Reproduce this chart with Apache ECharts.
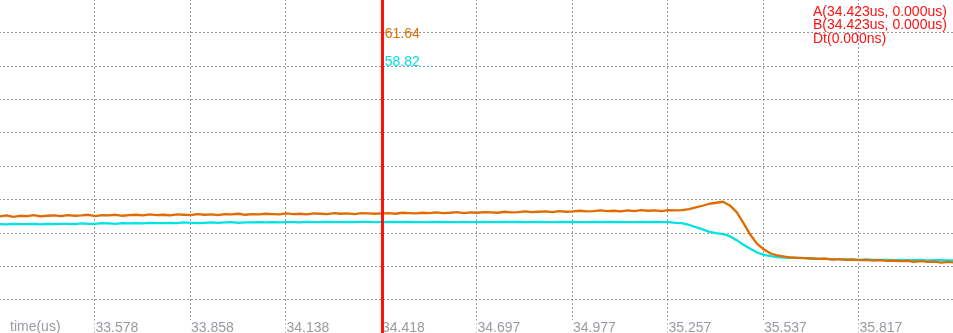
<!DOCTYPE html>
<html>
<head>
<meta charset="utf-8">
<style>
html,body{margin:0;padding:0;background:#fff;}
#c{width:953px;height:333px;}
</style>
<script src="https://cdn.jsdelivr.net/npm/echarts@6/dist/echarts.min.js"></script>
</head>
<body>
<div id="c"></div>
<script>
// Tick labels on the time axis (us)
const tickLabels = ['', '33.578', '33.858', '34.138', '34.418', '34.697', '34.977', '35.257', '35.537', '35.817', ''];
const axisMin = 33.298125;
const axisStep = 0.279875;
const axisMax = 36.096875;

// Sampling grid for the traces
const t0 = 33.30;
const dt = 0.02;

// Orange trace
const orangeValues = [
  34.9, 35.2, 34.8, 35.1, 35.0, 35.3, 34.9, 35.1, 35.2, 35.0,
  35.3, 35.1, 35.2, 35.4, 35.0, 35.3, 35.2, 35.4, 35.1, 35.3,
  35.4, 35.2, 35.5, 35.3, 35.4, 35.2, 35.5, 35.4, 35.3, 35.6,
  35.4, 35.5, 35.3, 35.6, 35.5, 35.7, 35.4, 35.6, 35.5, 35.7,
  35.6, 35.5, 35.8, 35.6, 35.7, 35.5, 35.8, 35.7, 35.6, 35.9,
  35.7, 35.8, 35.6, 35.9, 35.8, 35.7, 35.8, 35.9, 35.7, 36.0,
  35.9, 35.8, 36.0, 35.9, 36.1, 35.9, 36.0, 36.2, 35.9, 36.1,
  36.0, 36.2, 36.1, 36.0, 36.3, 36.1, 36.2, 36.4, 36.2, 36.3,
  36.4, 36.2, 36.5, 36.3, 36.4, 36.6, 36.4, 36.5, 36.7, 36.5,
  36.6, 36.4, 36.7, 36.5, 36.8, 36.6, 36.7, 36.5, 36.8, 36.7,
  36.8, 37.1, 37.6, 38.1, 38.7, 39.0, 39.3, 38.2, 36.2, 32.9,
  29.4, 26.7, 25.0, 23.8, 23.2, 22.9, 22.6, 22.5, 22.4, 22.3,
  22.2, 22.3, 22.0, 22.1, 21.9, 22.0, 21.8, 21.9, 21.7, 21.8,
  21.6, 21.7, 21.5, 21.6, 21.3, 21.5, 21.3, 21.4, 21.1, 21.3,
  21.1
];

// Cyan trace
const cyanValues = [
  32.6, 32.5, 32.7, 32.6, 32.6, 32.7, 32.5, 32.7, 32.6, 32.7,
  32.7, 32.6, 32.8, 32.7, 32.7, 32.9, 32.8, 32.7, 32.9, 32.8,
  32.9, 32.8, 33.0, 32.9, 32.9, 33.0, 32.9, 33.1, 33.0, 32.9,
  33.0, 33.1, 33.0, 33.1, 33.2, 33.0, 33.1, 33.1, 33.2, 33.1,
  33.2, 33.1, 33.2, 33.2, 33.1, 33.3, 33.2, 33.2, 33.3, 33.2,
  33.2, 33.3, 33.2, 33.3, 33.3, 33.2, 33.3, 33.2, 33.3, 33.2,
  33.3, 33.2, 33.2, 33.3, 33.2, 33.3, 33.2, 33.2, 33.3, 33.2,
  33.2, 33.3, 33.2, 33.2, 33.3, 33.2, 33.3, 33.2, 33.2, 33.3,
  33.2, 33.2, 33.3, 33.2, 33.3, 33.2, 33.2, 33.3, 33.2, 33.3,
  33.2, 33.3, 33.2, 33.2, 33.3, 33.2, 33.3, 33.2, 33.2, 33.0,
  32.9, 32.4, 31.7, 31.0, 30.3, 29.9, 29.6, 29.0, 27.8, 26.4,
  25.2, 24.1, 23.4, 23.0, 22.7, 22.6, 22.5, 22.5, 22.4, 22.3,
  22.2, 22.2, 22.1, 22.1, 22.0, 22.0, 21.9, 22.0, 21.9, 21.9,
  21.9, 21.8, 21.9, 21.8, 21.8, 21.9, 21.7, 21.8, 21.8, 21.7,
  21.8
];

// Cursor
const cursorTime = 34.423;
const cursorLabels = ['61.64', '58.82'];
const infoLines = ['A(34.423us, 0.000us)', 'B(34.423us, 0.000us)', 'Dt(0.000ns)'];

const orangeData = orangeValues.map((v, i) => [t0 + i * dt, v]);
const cyanData = cyanValues.map((v, i) => [t0 + i * dt, v]);

const FONT = '"Liberation Sans", Arial, sans-serif';
const gridLine = { show: true, lineStyle: { color: '#9a9a9a', width: 1, type: [2, 2] } };

const chart = echarts.init(document.getElementById('c'), null, { renderer: 'canvas' });
chart.setOption({
  animation: false,
  backgroundColor: '#fff',
  grid: { left: -1, right: -1, top: -1, bottom: 0, containLabel: false, outerBoundsMode: 'none' },
  xAxis: {
    type: 'value',
    min: axisMin,
    max: axisMax,
    interval: axisStep,
    axisLine: { show: false },
    axisTick: { show: false },
    splitLine: gridLine,
    axisLabel: {
      inside: true,
      margin: -2,
      showMinLabel: true,
      showMaxLabel: true,
      hideOverlap: false,
      align: 'left',
      verticalAlign: 'bottom',
      color: '#9a9aa2',
      fontSize: 14,
      fontFamily: FONT,
      backgroundColor: '#fff',
      padding: [1, 2, 0, 1],
      formatter: function (v) {
        const idx = Math.round((v - axisMin) / axisStep);
        return tickLabels[idx] || '';
      }
    }
  },
  yAxis: {
    type: 'value',
    min: 0,
    max: 100,
    interval: 10,
    axisLine: { show: false },
    axisTick: { show: false },
    axisLabel: { show: false },
    splitLine: gridLine
  },
  series: [
    {
      name: 'ch1',
      type: 'line',
      data: orangeData,
      showSymbol: false,
      lineStyle: { color: '#e06c00', width: 2.3 },
      z: 3,
      markLine: {
        silent: true,
        symbol: 'none',
        label: { show: false },
        lineStyle: { color: '#ff1010', width: 3, type: 'solid' },
        data: [{ xAxis: cursorTime }],
        z: 10
      }
    },
    {
      name: 'ch2',
      type: 'line',
      data: cyanData,
      showSymbol: false,
      lineStyle: { color: '#00e3e3', width: 2.3 },
      z: 2
    }
  ]
});

const cx = chart.convertToPixel({ xAxisIndex: 0 }, cursorTime);
chart.setOption({
  graphic: [
    { type: 'text', left: 10, top: 320, z: 100,
      style: { text: 'time(us)', fill: '#9a9aa2', font: '14px ' + FONT } },
    { type: 'text', x: cx + 2, y: 27, z: 100,
      style: { text: cursorLabels[0], fill: '#e07000', font: '14px ' + FONT } },
    { type: 'text', x: cx + 2, y: 55, z: 100,
      style: { text: cursorLabels[1], fill: '#00e0e6', font: '14px ' + FONT } },
    { type: 'text', left: 813, top: 5, z: 100,
      style: { text: infoLines.join('\n'), fill: '#ff1010', font: '14px ' + FONT, lineHeight: 13.5 } }
  ]
});
</script>
</body>
</html>
